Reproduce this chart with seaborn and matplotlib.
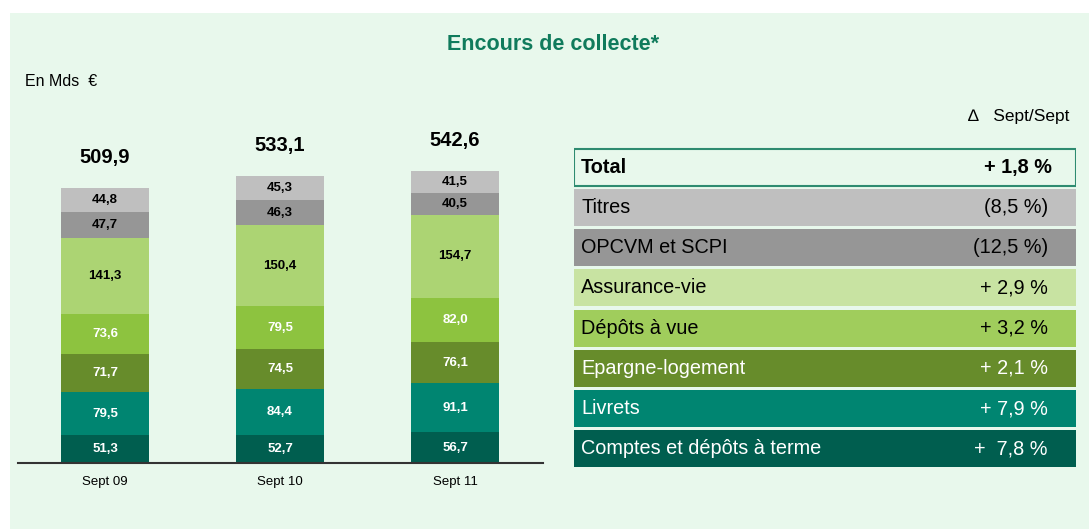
import numpy as np
import pandas as pd
import matplotlib
matplotlib.use("Agg")
import matplotlib.pyplot as plt
from matplotlib.patches import Rectangle
import seaborn as sns

sns.set_theme(style="white")
plt.rcParams["font.family"] = ["Liberation Sans", "DejaVu Sans"]

# --- data -------------------------------------------------------------
periods = ["Sept 09", "Sept 10", "Sept 11"]
# stacking order, bottom to top
segments = ["Comptes et dépôts à terme", "Livrets", "Epargne-logement",
            "Dépôts à vue", "Assurance-vie", "OPCVM et SCPI", "Titres"]
comptes = [51.3, 52.7, 56.7]
livrets = [79.5, 84.4, 91.1]
epargne = [71.7, 74.5, 76.1]
depots = [73.6, 79.5, 82.0]
assurance = [141.3, 150.4, 154.7]
opcvm = [47.7, 46.3, 40.5]
titres = [44.8, 45.3, 41.5]
totals = [509.9, 533.1, 542.6]

# year-on-year change table, top to bottom
table_labels = ["Total", "Titres", "OPCVM et SCPI", "Assurance-vie",
                "Dépôts à vue", "Epargne-logement", "Livrets",
                "Comptes et dépôts à terme"]
table_values = ["+ 1,8 %", "(8,5 %)", "(12,5 %)", "+ 2,9 %", "+ 3,2 %",
                "+ 2,1 %", "+ 7,9 %", "+  7,8 %"]

# --- styling ----------------------------------------------------------
bar_colors = ["#005E4F", "#008571", "#678C2B", "#8DC33F", "#ACD473",
              "#969696", "#BFBFBF"]
label_colors = ["white", "white", "white", "white", "black", "black", "black"]
table_fill = [None, "#BFBFBF", "#969696", "#C8E3A2", "#A0CD5C", "#678C2B",
              "#008571", "#005E4F"]
table_text = ["black", "black", "black", "black", "black", "white",
              "white", "white"]
panel = "#E8F8EC"
title_color = "#107B5C"

W, H = 1089, 530
fig = plt.figure(figsize=(W / 100, H / 100), dpi=100, facecolor="white")


def px_axes(x0, y0, x1, y1):
    """Axes from pixel box (top-left origin)."""
    return fig.add_axes([x0 / W, 1 - y1 / H, (x1 - x0) / W, (y1 - y0) / H])


# background panel
fig.patches.append(Rectangle((10 / W, 1 / H), 1 - 10 / W, (529 - 13) / H,
                             transform=fig.transFigure, facecolor=panel,
                             edgecolor="none", zorder=-10))

fig.text(553 / W, 1 - 45 / H, "Encours de collecte*", ha="center",
         va="center", fontsize=15.5, fontweight="bold", color=title_color)
fig.text(25 / W, 1 - 82 / H, "En Mds  €", ha="left", va="center",
         fontsize=11.5, color="black")
fig.text(1069 / W, 1 - 116 / H, "∆   Sept/Sept", ha="right", va="center",
         fontsize=12.5, color="black")

# --- stacked bars -----------------------------------------------------
ax = px_axes(17.5, 100, 542.5, 463)
ax.set_facecolor("none")
series = [comptes, livrets, epargne, depots, assurance, opcvm, titres]
stack = np.array(series)
tops = np.cumsum(stack, axis=0)
bottoms = tops - stack

df_parts = []
for name, top in zip(segments, tops):
    df_parts.append(pd.DataFrame({"period": periods, "segment": name,
                                  "top": top}))
df = pd.concat(df_parts, ignore_index=True)

# draw from the tallest cumulative down so each segment shows its own colour
for i in range(len(segments) - 1, -1, -1):
    sub = df[df["segment"] == segments[i]]
    sns.barplot(data=sub, x="period", y="top", color=bar_colors[i],
                width=0.503, saturation=1, ax=ax, linewidth=0)

for i in range(len(segments)):
    for j in range(len(periods)):
        ax.text(j, bottoms[i, j] + stack[i, j] / 2,
                f"{stack[i, j]:.1f}".replace(".", ","), ha="center",
                va="center", fontsize=9.5, fontweight="bold",
                color=label_colors[i])

for j, t in enumerate(totals):
    ax.text(j, t + 56, f"{t:.1f}".replace(".", ","), ha="center",
            va="center", fontsize=14.5, fontweight="bold", color="black")

ax.set_xlim(-0.5, 2.5)
ax.set_ylim(0, 363 / 0.539)
ax.set_xlabel("")
ax.set_ylabel("")
ax.set_yticks([])
for side in ["top", "right", "left"]:
    ax.spines[side].set_visible(False)
ax.spines["bottom"].set_color("#333333")
ax.spines["bottom"].set_linewidth(1.5)
ax.tick_params(axis="x", length=0, pad=9, labelsize=9.5, colors="black")

# --- change table -----------------------------------------------------
tx = px_axes(574, 147, 1076, 469)
tx.set_facecolor("none")
tx.set_xlim(0, 1)
tx.set_ylim(len(table_labels) - 0.5, -0.5)
tx.axis("off")
rows = np.arange(len(table_labels))
fills = [c if c is not None else panel for c in table_fill]
tx.barh(rows, [1] * len(rows), height=0.92, left=0, color=fills,
        edgecolor=["#2E8B70"] + ["none"] * (len(rows) - 1),
        linewidth=[1.5] + [0] * (len(rows) - 1))
for r, (lab, val) in enumerate(zip(table_labels, table_values)):
    bold = "bold" if r == 0 else "normal"
    tx.text(0.014, r, lab, ha="left", va="center", fontsize=14.3,
            fontweight=bold, color=table_text[r])
    tx.text(0.952 if r == 0 else 0.944, r, val, ha="right", va="center",
            fontsize=14.3, fontweight=bold, color=table_text[r])

fig.savefig("out.png", dpi=100, facecolor="white")
